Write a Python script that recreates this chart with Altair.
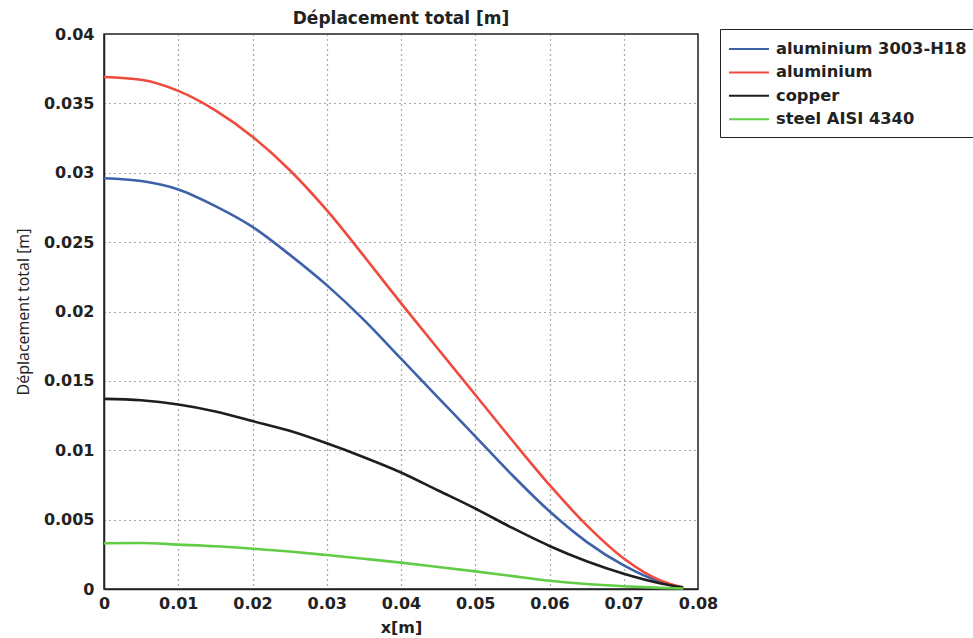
import altair as alt
import pandas as pd

# Position along the part (m)
x_m = [0.0, 0.005, 0.01, 0.015, 0.02, 0.025, 0.03, 0.035, 0.04,
       0.045, 0.05, 0.055, 0.06, 0.065, 0.07, 0.075, 0.078]

# Total displacement (m) per material
alu_3003 = [0.0296, 0.0294, 0.0288, 0.0276, 0.0261, 0.0241, 0.0219, 0.0194, 0.0166,
            0.0138, 0.0110, 0.0082, 0.0056, 0.0034, 0.0017, 0.0005, 0.0001]
alu = [0.0369, 0.0367, 0.0359, 0.0345, 0.0326, 0.0302, 0.0273, 0.0240, 0.0206,
       0.0173, 0.0140, 0.0107, 0.0075, 0.0046, 0.0022, 0.0006, 0.0001]
copper = [0.0137, 0.0136, 0.0133, 0.0128, 0.0121, 0.0114, 0.0105, 0.0095, 0.0084,
          0.0071, 0.0058, 0.0044, 0.0031, 0.0020, 0.0011, 0.0004, 0.0001]
steel = [0.0033, 0.00332, 0.0032, 0.00308, 0.0029, 0.0027, 0.00245, 0.00218, 0.0019,
         0.00159, 0.00127, 0.00093, 0.0006, 0.00036, 0.0002, 0.00008, 0.00003]

materials = ["aluminium 3003-H18", "aluminium", "copper", "steel AISI 4340"]
colors = ["#3d62a9", "#ef4a3c", "#1e1e1e", "#62cc46"]
series = [alu_3003, alu, copper, steel]

rows = []
for name, vals in zip(materials, series):
    for xv, yv in zip(x_m, vals):
        rows.append({"x": xv, "d": yv, "material": name})
df = pd.DataFrame(rows)

FONT = "DejaVu Sans"
INK = "#222222"

lines = alt.Chart(df).mark_line(strokeWidth=2.6, interpolate="monotone").encode(
    x=alt.X("x:Q",
            scale=alt.Scale(domain=[0, 0.08], nice=False, zero=False),
            axis=alt.Axis(values=[i / 100 for i in range(9)], format=".2~f",
                          title="x[m]", titleFont=FONT, titleFontSize=16,
                          titleFontWeight="bold", titleColor=INK,
                          titlePadding=8, labelPadding=6, labelFlush=False)),
    y=alt.Y("d:Q",
            scale=alt.Scale(domain=[0, 0.04], nice=False),
            axis=alt.Axis(values=[i * 0.005 for i in range(9)], format=".3~f",
                          title="Déplacement total [m]", titleFont="Open Sans",
                          titleFontSize=16, titleFontWeight="normal", titleColor=INK,
                          titlePadding=12, labelPadding=10, labelFlush=False)),
    color=alt.Color("material:N",
                    scale=alt.Scale(domain=materials, range=colors),
                    legend=alt.Legend(title=None, orient="none",
                                      legendX=616, legendY=-5,
                                      symbolType="M-2,0H2", symbolSize=400,
                                      symbolStrokeWidth=2, symbolOffset=9,
                                      labelFontSize=16.3, labelFontWeight="bold",
                                      labelFont=FONT, labelColor=INK, labelLimit=0,
                                      labelOffset=16,
                                      rowPadding=3.4, padding=9,
                                      strokeColor=INK, fillColor="white")),
    detail="material:N",
    order="x:Q",
)

chart = lines.properties(
    width=594,
    height=555,
    title=alt.TitleParams("Déplacement total [m]", fontSize=17, fontWeight="bold",
                          font=FONT, color=INK, anchor="middle", offset=-2),
    autosize=alt.AutoSizeParams(type="none"),
    padding={"left": 104, "top": 34, "right": 275, "bottom": 49},
).configure(
    background="white",
).configure_axis(
    labelFont=FONT, labelFontSize=16, labelFontWeight="bold", labelColor=INK,
    grid=True, gridColor="#555555", gridDash=[1, 4], gridWidth=1.2,
    domainColor=INK, domainWidth=1.5, ticks=False,
).configure_view(
    stroke=INK, strokeWidth=1.5,
)

chart.save("out.html", embed_options={"renderer": "svg", "actions": False})
